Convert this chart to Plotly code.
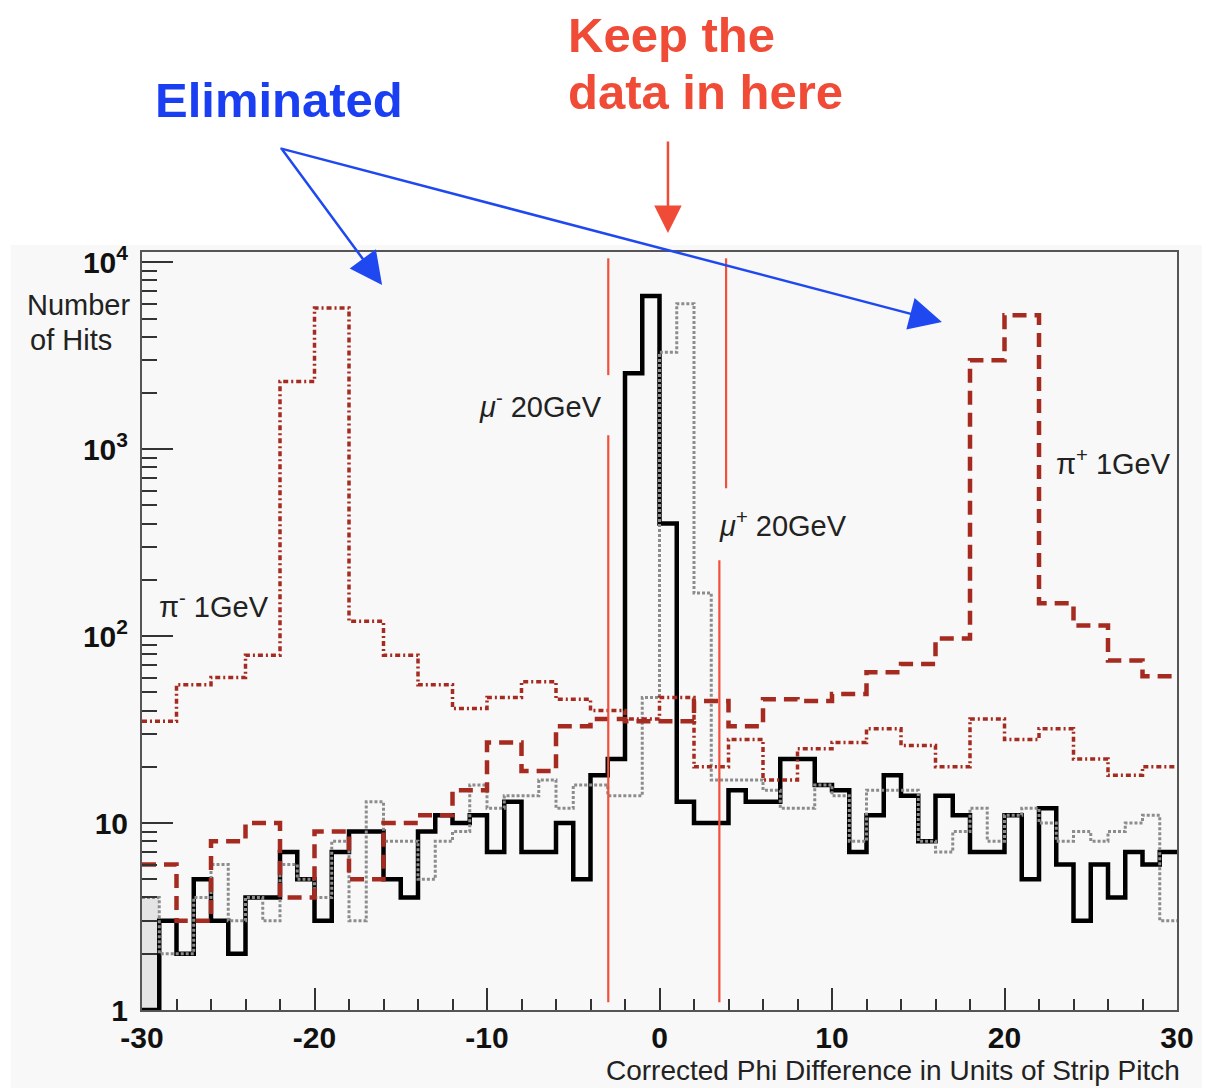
import plotly.graph_objects as go

# ---------------- data ----------------
# fine binning (1 strip pitch) for the muons: bin edges -30 ... 30
mu_edges = list(range(-30, 31, 1))
mu_minus_20GeV = [1, 3, 2, 5, 3, 2, 4, 4, 7, 5,
                  3, 7, 9, 9, 5, 4, 9, 11, 10, 11,
                  7, 13, 7, 7, 10, 5, 18, 22, 2550, 6600,
                  400, 13, 10, 10, 15, 13, 13, 22, 22, 16,
                  15, 7, 11, 18, 14, 8, 14, 11, 7, 7,
                  11, 5, 12, 6, 3, 6, 4, 7, 6, 7]
mu_plus_20GeV = [4, 2, 2, 4, 6, 3, 4, 3, 6, 5,
                 4, 8, 3, 13, 8, 8, 5, 8, 9, 16,
                 12, 14, 14, 17, 12, 16, 16, 14, 14, 47,
                 3300, 6000, 170, 17, 17, 17, 15, 12, 12, 16,
                 14, 8, 15, 15, 15, 8, 7, 9, 12, 8,
                 11, 12, 10, 8, 9, 8, 9, 10, 11, 3]
# coarse binning (2 strip pitches) for the pions
pi_edges = list(range(-30, 31, 2))
pi_minus_1GeV = [35, 55, 60, 79, 2300, 5700, 120, 79, 55, 41,
                 47, 57, 46, 40, 36, 47, 20, 28, 17, 25,
                 27, 32, 26, 20, 36, 28, 32, 22, 18, 20]
pi_plus_1GeV = [6, 3, 8, 10, 4, 9, 5, 10, 11, 15,
                27, 19, 33, 36, 35, 35, 45, 33, 46, 45,
                49, 64, 71, 97, 2990, 5200, 150, 114, 74, 61]

# shaded first bin of the mu+ histogram
first_bin_center = [-29.5]
first_bin_value = [mu_plus_20GeV[0]]

# hand-drawn "keep" cut lines (x position, y extent of each segment)
cut_x = [-2.97, -2.97, None, -2.97, -2.97, None, 3.86, 3.86, None, 3.47, 3.47]
cut_y = [10500, 2490, None, 1188, 1.1, None, 10500, 618, None, 255, 1.1]

x_ticks = [-30, -20, -10, 0, 10, 20, 30]
x_ticktext = ["-30", "-20", "-10", "0", "10", "20", "30"]
x_minor = [-28, -26, -24, -22, -18, -16, -14, -12, -8, -6, -4, -2,
           2, 4, 6, 8, 12, 14, 16, 18, 22, 24, 26, 28]
y_ticks = [1, 10, 100, 1000, 10000]
y_ticktext = ["1", "10", "10<sup>2</sup>", "10<sup>3</sup>", "10<sup>4</sup>"]
y_minor = [k * 10 ** d for d in range(4) for k in range(2, 10)]

# ---------------- layout geometry ----------------
W, H = 1206, 1088
L, R, T, B = 142, 25, 252, 78
PW, PH = W - L - R, H - T - B


def px(x):
    return (x - L) / PW


def py(y):
    return (H - B - y) / PH


FONT = "Liberation Sans, Arial, Helvetica, sans-serif"
DARKRED = "#a52a1f"


def step(edges, vals):
    return list(edges), list(vals) + [vals[-1]]


fig = go.Figure()

fig.add_trace(go.Bar(x=first_bin_center, y=first_bin_value, width=1,
                     marker=dict(color="#e4e4e4", line=dict(width=0)),
                     hoverinfo="skip"))

xs, ys = step(mu_edges, mu_minus_20GeV)
fig.add_trace(go.Scatter(x=xs, y=ys, mode="lines", line_shape="hv",
                         line=dict(color="#000000", width=4.5)))

xs, ys = step(mu_edges, mu_plus_20GeV)
fig.add_trace(go.Scatter(x=xs, y=ys, mode="lines", line_shape="hv",
                         line=dict(color="#8c8c8c", width=3, dash="3px,2px")))

xs, ys = step(pi_edges, pi_minus_1GeV)
fig.add_trace(go.Scatter(x=xs, y=ys, mode="lines", line_shape="hv",
                         line=dict(color=DARKRED, width=3.5, dash="5px,3px,2px,3px")))

xs, ys = step(pi_edges, pi_plus_1GeV)
fig.add_trace(go.Scatter(x=xs, y=ys, mode="lines", line_shape="hv",
                         line=dict(color=DARKRED, width=4.5, dash="14px,8px")))

fig.add_trace(go.Scatter(x=cut_x, y=cut_y, mode="lines",
                         line=dict(color="#f0503c", width=2.2)))

fig.update_layout(
    width=W, height=H, autosize=False,
    margin=dict(l=L, r=R, t=T, b=B),
    paper_bgcolor="white", plot_bgcolor="#f9f9f9",
    showlegend=False, bargap=0,
    font=dict(family=FONT, color="#222"),
)

fig.update_xaxes(
    range=[-30, 30], tickmode="array", tickvals=x_ticks, ticktext=x_ticktext,
    ticks="inside", ticklen=22, tickwidth=2, tickcolor="#333",
    tickfont=dict(family=FONT, size=30, color="#111", weight="bold"),
    ticklabelstandoff=0,
    minor=dict(tickmode="array", tickvals=x_minor, ticks="inside",
               ticklen=11, tickwidth=2, tickcolor="#333", showgrid=False),
    showgrid=False, zeroline=False,
    showline=True, linecolor="#555", linewidth=2, mirror=True,
)
fig.update_yaxes(
    type="log", range=[0, 4.055], tickmode="array",
    tickvals=y_ticks, ticktext=y_ticktext,
    ticks="inside", ticklen=31, tickwidth=2, tickcolor="#333",
    tickfont=dict(family=FONT, size=30, color="#111", weight="bold"),
    ticklabelstandoff=6,
    minor=dict(tickmode="array", tickvals=y_minor, ticks="inside",
               ticklen=15, tickwidth=2, tickcolor="#333", showgrid=False),
    showgrid=False, zeroline=False,
    showline=True, linecolor="#555", linewidth=2, mirror=True,
)

# light grey canvas behind the frame
fig.add_shape(type="rect", xref="paper", yref="paper", layer="below",
              x0=px(10), x1=px(W), y0=py(H), y1=py(245),
              fillcolor="#f8f8f8", line=dict(width=0))

ann = []


def text(x, y, s, size, color="#222", bold=False, xanchor="center", align="center"):
    ann.append(dict(x=px(x), y=py(y), xref="paper", yref="paper", text=s,
                    showarrow=False, xanchor=xanchor, yanchor="middle", align=align,
                    font=dict(family=FONT, size=size, color=color,
                              weight="bold" if bold else "normal")))


text(280, 100, "Eliminated", 49, "#1a3ff2", True)
text(568, 35, "Keep the", 49, "#f04b37", True, xanchor="left")
text(568, 92, "data in here", 49, "#f04b37", True, xanchor="left")
text(25, 305, "Number", 29, xanchor="left")
text(28, 340, "of Hits", 29, xanchor="left")
text(1186, 1070, "Corrected Phi Difference in Units of Strip Pitch", 28, xanchor="right")
text(214, 605, "π<sup>-</sup> 1GeV", 29)
text(542, 405, "<i>μ</i><sup>-</sup> 20GeV", 29)
text(785, 524, "<i>μ</i><sup>+</sup> 20GeV", 29)
text(1117, 462, "π<sup>+</sup> 1GeV", 29)


def arrow(tail, head, color, size):
    ann.append(dict(x=px(head[0]), y=py(head[1]), xref="paper", yref="paper",
                    ax=tail[0] - head[0], ay=tail[1] - head[1],
                    axref="pixel", ayref="pixel", text="", showarrow=True,
                    arrowhead=2, arrowsize=size, arrowwidth=2.5, arrowcolor=color,
                    standoff=0, startstandoff=0))


arrow((282, 148), (383, 285), "#1f48f0", 2.6)
arrow((282, 148), (945, 322), "#1f48f0", 2.6)
arrow((670, 140), (670, 233), "#f04b37", 2.2)

fig.update_layout(annotations=ann)

fig.write_html("out.html")
